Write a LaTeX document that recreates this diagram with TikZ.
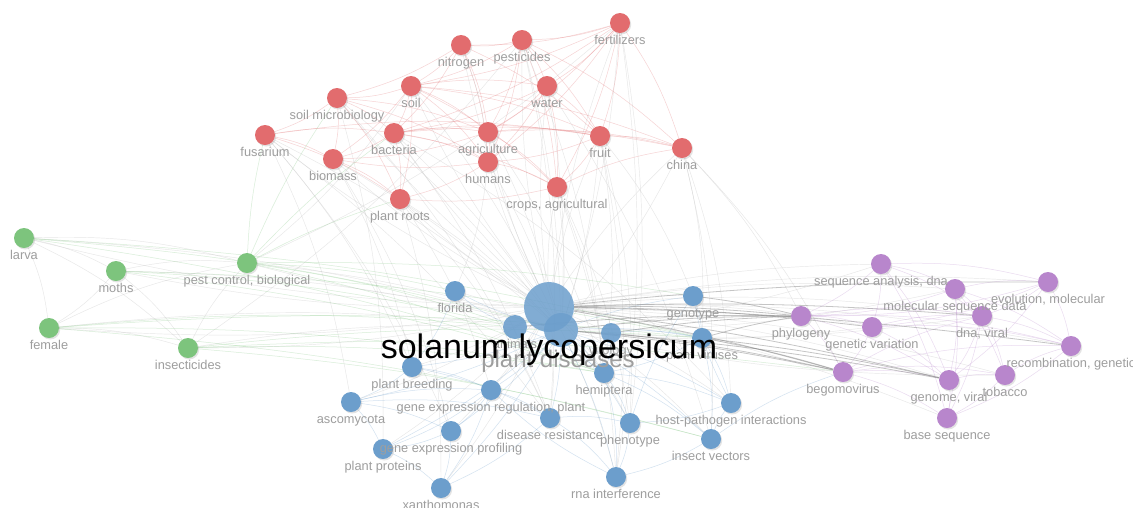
\documentclass[tikz,border=0pt]{standalone}
\usepackage{fontspec}
\setmainfont{Liberation Sans}
\usetikzlibrary{backgrounds,shadows}
\definecolor{cred}{RGB}{226,108,110}
\definecolor{cgreen}{RGB}{125,196,125}
\definecolor{cblue}{RGB}{108,158,204}
\definecolor{cpurple}{RGB}{184,134,204}
\definecolor{labgrey}{RGB}{158,158,158}
\definecolor{edgegrey}{RGB}{195,195,195}
\tikzset{
  kwc/.style={circle,inner sep=0pt,minimum size=20pt,draw=none,
    drop shadow={opacity=0.22,shadow xshift=1.2pt,shadow yshift=-1.5pt}},
  lab/.style={anchor=base,inner sep=0pt,text=labgrey,font=\fontsize{12.8}{13}\selectfont},
  redE/.style={draw=cred,opacity=0.3,line width=0.5pt},
  greyE/.style={draw=edgegrey,opacity=0.4,line width=0.45pt},
  greenE/.style={draw=cgreen,opacity=0.3,line width=0.5pt},
  blueE/.style={draw=cblue,opacity=0.3,line width=0.5pt},
  purpE/.style={draw=cpurple,opacity=0.3,line width=0.5pt},
  darkE/.style={draw=gray,opacity=0.45,line width=0.8pt},
}
\newcommand\kw[4]{\node[kwc,fill=#4] (#1) at (#2,#3) {};}
\newcommand\kwl[2]{\node[lab] (t#1) at ([yshift=-21pt]#1.center) {#2};}
\begin{document}
\begin{tikzpicture}[x=1pt,y=-1pt]
\useasboundingbox (0,0) rectangle (1133,507);
% ---------- nodes ----------
% red
\kw{fert}{620}{23}{cred}
\kw{pest}{522}{40}{cred}
\kw{nitro}{461}{45}{cred}
\kw{soil}{411}{86}{cred}
\kw{water}{547}{86}{cred}
\kw{smic}{337}{98}{cred}
\kw{fus}{265}{135}{cred}
\kw{bact}{394}{133}{cred}
\kw{agri}{488}{132}{cred}
\kw{fruit}{600}{136}{cred}
\kw{china}{682}{148}{cred}
\kw{biom}{333}{159}{cred}
\kw{hum}{488}{162}{cred}
\kw{crops}{557}{187}{cred}
\kw{roots}{400}{199}{cred}
% green
\kw{larva}{24}{238}{cgreen}
\kw{moths}{116}{271}{cgreen}
\kw{pcb}{247}{263}{cgreen}
\kw{female}{49}{328}{cgreen}
\kw{insect}{188}{348}{cgreen}
% blue
\node[circle,inner sep=0pt,minimum size=50pt,fill=cblue,fill opacity=0.85] (sl) at (549,307) {};
\node[circle,inner sep=0pt,minimum size=34pt,fill=cblue,fill opacity=0.85] (pd) at (561,330) {};
\node[circle,inner sep=0pt,minimum size=24pt,fill=cblue,fill opacity=0.9] (anim) at (515,327) {};
\node[circle,inner sep=0pt,minimum size=20pt,fill=cblue,fill opacity=0.9] (viro) at (611,333) {};
\kw{flor}{455}{291}{cblue}
\kw{geno}{693}{296}{cblue}
\kw{pvir}{702}{338}{cblue}
\kw{pbreed}{412}{367}{cblue}
\kw{hemi}{604}{373}{cblue}
\kw{gerp}{491}{390}{cblue}
\kw{asco}{351}{402}{cblue}
\kw{dres}{550}{418}{cblue}
\kw{hpi}{731}{403}{cblue}
\kw{gepro}{451}{431}{cblue}
\kw{pheno}{630}{423}{cblue}
\kw{ivec}{711}{439}{cblue}
\kw{pprot}{383}{449}{cblue}
\kw{rnai}{616}{477}{cblue}
\kw{xan}{441}{488}{cblue}
% purple
\kw{sad}{881}{264}{cpurple}
\kw{msd}{955}{289}{cpurple}
\kw{evo}{1048}{282}{cpurple}
\kw{phylo}{801}{316}{cpurple}
\kw{gvar}{872}{327}{cpurple}
\kw{dnav}{982}{316}{cpurple}
\kw{recomb}{1071}{346}{cpurple}
\kw{bego}{843}{372}{cpurple}
\kw{genv}{949}{380}{cpurple}
\kw{tob}{1005}{375}{cpurple}
\kw{bseq}{947}{418}{cpurple}
% ---------- edges ----------
\begin{scope}[on background layer]
\fill[white] (0,0) rectangle (1133,507);
\foreach \a in {fert,pest,nitro,soil,water,smic,fus,bact,agri,fruit,china,biom,hum,crops,roots,
  larva,moths,pcb,female,insect,flor,geno,pvir,pbreed,hemi,gerp,asco,dres,hpi,gepro,pheno,ivec,pprot,rnai,xan,
  sad,msd,evo,gvar,dnav,recomb,genv,tob,bseq}
  \draw[greyE] (sl) to[bend left=6] (\a);
\foreach \a in {fert,pest,soil,water,smic,fus,bact,agri,fruit,china,biom,hum,crops,roots,
  larva,moths,pcb,female,insect,gvar,dnav,sad,msd,tob}
  \draw[greyE] (pd) to[bend right=6] (\a);
\foreach \a/\b in {fert/pest,fert/nitro,fert/soil,fert/fruit,fert/china,fert/crops,fert/agri,fert/hum,fert/bact,fert/water,
  pest/nitro,pest/soil,pest/water,pest/agri,pest/fruit,pest/crops,pest/hum,pest/china,
  nitro/soil,nitro/smic,nitro/agri,nitro/bact,nitro/hum,nitro/fruit,
  soil/smic,soil/water,soil/bact,soil/agri,soil/fruit,soil/hum,soil/crops,soil/roots,soil/biom,soil/china,
  water/agri,water/fruit,water/hum,water/crops,water/bact,
  smic/fus,smic/bact,smic/biom,smic/roots,smic/agri,smic/hum,
  fus/bact,fus/biom,fus/roots,fus/fruit,
  bact/agri,bact/fruit,bact/hum,bact/biom,bact/roots,bact/crops,bact/china,
  agri/fruit,agri/hum,agri/crops,agri/china,agri/biom,
  fruit/china,fruit/hum,fruit/crops,hum/crops,hum/roots,hum/biom,
  biom/roots,crops/china,crops/roots}
  \draw[redE] (\a) to[bend left=8] (\b);
\foreach \a/\b in {fus/asco,fus/pbreed,fus/dres,smic/dres,bact/dres,bact/hpi,roots/gerp,roots/dres,
  biom/pbreed,china/pvir,china/bego,china/hpi,china/ivec,fruit/geno,fruit/pheno,fruit/hemi,crops/hemi,crops/pheno,
  agri/hemi,hum/flor,pest/insect,pest/hemi,fert/pcb,water/ivec,fert/rnai,fruit/rnai,crops/rnai,fus/gepro,
  smic/pprot,biom/gepro,roots/xan,china/phylo,fert/pheno,pest/dres,soil/pcb,nitro/hum}
  \draw[greyE] (\a) to[bend left=8] (\b);
\foreach \a/\b in {larva/moths,larva/female,larva/pcb,moths/pcb,moths/female,moths/insect,female/pcb,
  female/insect,insect/pcb,larva/insect}
  \draw[greyE] (\a) to[bend left=8] (\b);
\foreach \a/\b in {larva/pd,moths/anim,pcb/anim,moths/hemi,larva/hemi,female/hemi,insect/hemi,
  female/ivec,insect/ivec,insect/bego,pcb/hemi,pcb/geno,female/anim,pcb/flor,pcb/fus,pcb/roots,pcb/smic,pcb/bact,
  insect/pvir,female/pvir,larva/pvir,moths/pvir}
  \draw[greenE] (\a) to[bend left=5] (\b);
\foreach \a in {flor,geno,pvir,pbreed,hemi,gerp,asco,dres,hpi,gepro,pheno,ivec,pprot,rnai,xan}
  \draw[blueE] (pd) to[bend left=6] (\a);
\foreach \a/\b in {anim/flor,anim/hemi,flor/pbreed,pbreed/asco,pbreed/gerp,asco/pprot,asco/gepro,asco/gerp,
  gerp/gepro,gerp/dres,gerp/pprot,gepro/pprot,gepro/xan,pprot/xan,gerp/xan,dres/pheno,dres/rnai,dres/xan,
  pheno/rnai,hemi/pheno,hemi/ivec,hemi/hpi,hemi/rnai,ivec/hpi,ivec/rnai,hpi/pheno,hpi/geno,geno/pvir,
  pvir/hpi,pvir/ivec,pvir/hemi,pheno/geno,rnai/gerp,viro/pvir,viro/hemi,ivec/bego,asco/dres,pbreed/dres}
  \draw[blueE] (\a) to[bend left=8] (\b);
\foreach \a/\b in {sad/msd,sad/phylo,sad/gvar,sad/evo,sad/dnav,sad/genv,sad/bseq,msd/evo,msd/phylo,msd/dnav,
  msd/genv,msd/bseq,msd/recomb,msd/tob,evo/dnav,evo/recomb,evo/phylo,evo/gvar,evo/genv,phylo/gvar,phylo/dnav,
  phylo/bego,phylo/genv,phylo/recomb,gvar/bego,gvar/dnav,gvar/genv,gvar/recomb,dnav/genv,dnav/tob,dnav/bseq,
  dnav/recomb,bego/genv,bego/tob,bego/bseq,bego/recomb,genv/tob,genv/bseq,tob/bseq,tob/recomb,recomb/bseq,bego/dnav}
  \draw[purpE] (\a) to[bend left=8] (\b);
\foreach \a/\b in {sl/phylo,sl/bego,sl/gvar,sl/dnav,sl/genv,pd/bego,pd/phylo,pd/genv,sl/recomb,sl/evo,
  geno/phylo,pvir/bego,pvir/genv,pvir/phylo,viro/bego,viro/phylo,anim/phylo}
  \draw[darkE] (\a) to[bend left=3] (\b);
\end{scope}
% ---------- labels ----------
\kwl{fert}{fertilizers}
\kwl{pest}{pesticides}
\kwl{nitro}{nitrogen}
\kwl{soil}{soil}
\kwl{water}{water}
\kwl{smic}{soil microbiology}
\kwl{fus}{fusarium}
\kwl{bact}{bacteria}
\kwl{agri}{agriculture}
\kwl{fruit}{fruit}
\kwl{china}{china}
\kwl{biom}{biomass}
\kwl{hum}{humans}
\kwl{crops}{crops, agricultural}
\kwl{roots}{plant roots}
\kwl{larva}{larva}
\kwl{moths}{moths}
\kwl{pcb}{pest control, biological}
\kwl{female}{female}
\kwl{insect}{insecticides}
\kwl{flor}{florida}
\kwl{geno}{genotype}
\kwl{pvir}{plant viruses}
\kwl{pbreed}{plant breeding}
\kwl{hemi}{hemiptera}
\kwl{gerp}{gene expression regulation, plant}
\kwl{asco}{ascomycota}
\kwl{dres}{disease resistance}
\kwl{hpi}{host-pathogen interactions}
\kwl{gepro}{gene expression profiling}
\kwl{pheno}{phenotype}
\kwl{ivec}{insect vectors}
\kwl{pprot}{plant proteins}
\kwl{rnai}{rna interference}
\kwl{xan}{xanthomonas}
\kwl{sad}{sequence analysis, dna}
\kwl{msd}{molecular sequence data}
\kwl{evo}{evolution, molecular}
\kwl{phylo}{phylogeny}
\kwl{gvar}{genetic variation}
\kwl{dnav}{dna, viral}
\kwl{recomb}{recombination, genetic}
\kwl{bego}{begomovirus}
\kwl{genv}{genome, viral}
\kwl{tob}{tobacco}
\kwl{bseq}{base sequence}
\node[lab] (tanim) at ([yshift=-21pt]anim.center) {animals};
\node[lab] (tviro) at ([yshift=-21pt]viro.center) {virology};
\node[lab,font=\fontsize{24}{24}\selectfont] (tpd) at ([xshift=-3pt,yshift=-37pt]pd.center) {plant diseases};
\node[anchor=base,inner sep=0pt,text=black,font=\fontsize{34}{34}\selectfont] (tsl) at ([yshift=-51pt]sl.center) {solanum lycopersicum};
\end{tikzpicture}
\end{document}
